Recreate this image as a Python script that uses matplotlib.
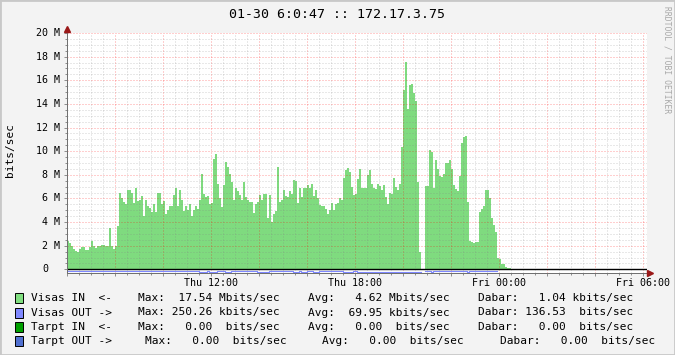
import matplotlib
matplotlib.use("Agg")
import matplotlib.pyplot as plt
import numpy as np
from matplotlib.patches import Rectangle
from matplotlib.ticker import FixedLocator, FixedFormatter

# Visas IN, Mbit/s, one value per 5 minutes starting Thu 06:00
visas_in = [
    2.4, 2.2, 2.0, 1.7, 1.55, 1.5, 1.7, 1.85, 1.85, 1.6,
    1.65, 1.9, 2.4, 2.0, 1.8, 2.0, 2.0, 2.1, 2.1, 1.95,
    1.95, 3.5, 1.95, 1.75, 2.0, 3.7, 6.5, 6.0, 5.7, 5.5,
    6.75, 6.75, 6.5, 5.6, 6.9, 5.8, 5.9, 6.2, 4.5, 5.85,
    5.4, 5.2, 4.85, 5.5, 4.85, 6.5, 6.5, 5.5, 5.8, 4.66,
    5.05, 5.4, 5.4, 6.25, 6.85, 5.33, 6.7, 5.85, 4.94, 5.33,
    5.0, 5.5, 4.5, 5.0, 5.33, 5.14, 5.85, 8.05, 6.4, 6.1,
    6.2, 5.5, 5.6, 9.35, 9.75, 7.2, 6.0, 5.3, 7.1, 9.07,
    8.7, 8.1, 7.37, 5.9, 6.86, 6.63, 6.25, 5.9, 7.43, 6.1,
    5.9, 5.74, 5.7, 4.77, 5.57, 5.7, 6.3, 5.9, 6.4, 6.4,
    4.38, 6.25, 3.98, 4.66, 4.94, 8.7, 5.74, 5.85, 6.75, 6.2,
    6.15, 6.63, 6.4, 7.54, 7.5, 5.6, 6.86, 6.1, 6.86, 6.9,
    7.1, 6.86, 7.2, 6.2, 6.75, 6.0, 5.45, 5.4, 5.33, 5.14,
    4.72, 5.05, 5.6, 5.05, 5.57, 5.6, 6.0, 5.9, 7.77, 8.4,
    8.56, 8.2, 6.97, 6.3, 6.4, 7.65, 8.5, 6.9, 6.86, 6.86,
    8.0, 8.4, 7.26, 6.9, 6.8, 7.2, 7.03, 6.75, 7.1, 6.13,
    5.57, 6.47, 6.4, 7.7, 6.97, 6.7, 7.26, 10.37, 15.17, 17.54,
    13.6, 15.6, 15.7, 14.94, 14.26, 7.37, 1.44, np.nan, np.nan, 7.03,
    7.03, 10.08, 9.94, 6.92, 9.24, 8.5, 7.88, 7.85, 8.1, 8.96,
    8.96, 9.24, 8.5, 7.1, 6.84, 6.64, 7.94, 10.65, 11.16, 11.27,
    5.68, 2.4, 2.29, 2.23, 2.29, 2.35, 4.89, 5.11, 5.34, 6.75,
    6.75, 6.0, 4.32, 3.76, 3.14, 0.99, 0.9, 0.42, 0.42, 0.2,
    0.14, 0.12,
]

# Visas OUT, Mbit/s (drawn below zero)
visas_out = [
    0.12, 0.12, 0.12, 0.12, 0.12, 0.12, 0.12, 0.12, 0.12, 0.12,
    0.12, 0.12, 0.12, 0.12, 0.12, 0.12, 0.12, 0.12, 0.12, 0.12,
    0.12, 0.12, 0.12, 0.12, 0.12, 0.12, 0.12, 0.12, 0.12, 0.12,
    0.12, 0.12, 0.12, 0.12, 0.12, 0.12, 0.12, 0.12, 0.12, 0.12,
    0.12, 0.12, 0.12, 0.12, 0.12, 0.12, 0.12, 0.12, 0.12, 0.12,
    0.12, 0.12, 0.12, 0.12, 0.12, 0.12, 0.12, 0.12, 0.12, 0.12,
    0.12, 0.12, 0.12, 0.12, 0.12, 0.12, 0.2, 0.2, 0.2, 0.2,
    0.12, 0.26, 0.26, 0.26, 0.26, 0.12, 0.12, 0.12, 0.12, 0.2,
    0.2, 0.2, 0.12, 0.12, 0.12, 0.12, 0.12, 0.12, 0.12, 0.12,
    0.12, 0.12, 0.12, 0.12, 0.12, 0.2, 0.2, 0.2, 0.2, 0.2,
    0.2, 0.12, 0.12, 0.12, 0.12, 0.18, 0.12, 0.12, 0.12, 0.12,
    0.12, 0.12, 0.12, 0.2, 0.2, 0.2, 0.12, 0.2, 0.2, 0.2,
    0.12, 0.12, 0.12, 0.2, 0.2, 0.2, 0.12, 0.12, 0.12, 0.12,
    0.12, 0.12, 0.12, 0.12, 0.12, 0.12, 0.12, 0.12, 0.2, 0.2,
    0.2, 0.2, 0.2, 0.12, 0.12, 0.2, 0.2, 0.2, 0.2, 0.2,
    0.2, 0.2, 0.2, 0.2, 0.2, 0.2, 0.2, 0.2, 0.2, 0.2,
    0.2, 0.2, 0.2, 0.2, 0.2, 0.2, 0.2, 0.25, 0.2, 0.2,
    0.2, 0.2, 0.2, 0.2, 0.2, 0.2, 0.2, np.nan, np.nan, 0.12,
    0.12, 0.12, 0.2, 0.12, 0.12, 0.12, 0.12, 0.12, 0.12, 0.12,
    0.12, 0.12, 0.12, 0.12, 0.12, 0.12, 0.12, 0.12, 0.12, 0.12,
    0.2, 0.12, 0.12, 0.12, 0.12, 0.12, 0.12, 0.12, 0.12, 0.12,
    0.12, 0.12, 0.12, 0.12, 0.12,
]

x_label_hours = [6, 12, 18, 24]
x_labels = ["Thu 12:00", "Thu 18:00", "Fri 00:00", "Fri 06:00"]
y_ticks = [0, 2, 4, 6, 8, 10, 12, 14, 16, 18, 20]
y_labels = ["0", "2 M", "4 M", "6 M", "8 M", "10 M", "12 M", "14 M", "16 M", "18 M", "20 M"]

title = "01-30 6:0:47 :: 172.17.3.75"
legend_names = ["Visas IN  <-", "Visas OUT ->", "Tarpt IN  <-", "Tarpt OUT ->"]
legend_max = ["Max:  17.54 Mbits/sec", "Max: 250.26 kbits/sec",
              "Max:   0.00  bits/sec", "Max:   0.00  bits/sec"]
legend_avg = ["Avg:   4.62 Mbits/sec", "Avg:  69.95 kbits/sec",
              "Avg:   0.00  bits/sec", "Avg:   0.00  bits/sec"]
legend_cur = ["Dabar:   1.04 kbits/sec", "Dabar: 136.53  bits/sec",
              "Dabar:   0.00  bits/sec", "Dabar:   0.00  bits/sec"]
legend_colors = ["#80DE80", "#8088FF", "#00A000", "#5070D0"]

W, H = 675, 355
mono = "DejaVu Sans Mono"
step = 1 / 12  # 5 minutes in hours

fig = plt.figure(figsize=(W / 100, H / 100), dpi=100, facecolor="#F3F3F3")
ax = fig.add_axes([67 / W, 1 - 273 / H, 579.7 / W, 240 / H])
ax.set_facecolor("white")

t_in = np.arange(len(visas_in)) * step
ax.bar(t_in, visas_in, width=step, align="edge", color="#7FDB7F",
       linewidth=0, antialiased=False, zorder=1)

out = np.array(visas_out, dtype=float)
xo = np.append(np.arange(len(out)) * step, len(out) * step)
yo = np.append(-out, -out[-1])
ax.step(xo, yo, where="post", color="#7F88FF", lw=0.8, zorder=3)
ax.axhline(0, color="black", lw=1.0, zorder=4)

ax.set_xlim(0, 24.15)
ax.set_ylim(-0.31, 20)

major_x = np.arange(0, 24.1, 2)
ax.xaxis.set_major_locator(FixedLocator(major_x))
ax.xaxis.set_major_formatter(FixedFormatter(
    [x_labels[x_label_hours.index(h)] if h in x_label_hours else "" for h in major_x]))
ax.xaxis.set_minor_locator(FixedLocator(np.arange(0, 24.1, 0.5)))
ax.yaxis.set_major_locator(FixedLocator(y_ticks))
ax.yaxis.set_minor_locator(FixedLocator(np.arange(0, 20.1, 0.5)))
ax.set_yticklabels([])

ax.set_axisbelow(False)
ax.grid(which="minor", color="#808080", alpha=0.35, ls=(0, (1, 2)), lw=0.72)
ax.grid(which="major", color="#FF0000", alpha=0.38, ls=(0, (1, 2)), lw=0.72)

for s in ["top", "right"]:
    ax.spines[s].set_visible(False)
for s in ["left", "bottom"]:
    ax.spines[s].set_color("#707070")
    ax.spines[s].set_linewidth(0.72)
    ax.spines[s].set_zorder(5)

ax.tick_params(which="both", direction="out", color="#909090", width=0.72)
ax.tick_params(which="major", length=2)
ax.tick_params(which="minor", length=1.4)
ax.tick_params(axis="x", pad=1.5, labelsize=7.2)
for lab in ax.get_xticklabels():
    lab.set_fontfamily(mono)

# arrows at axis ends
ax.plot([0, 0], [20, 20.36], color="#707070", lw=0.72, clip_on=False, zorder=5)
ax.plot([0], [20.36], marker="^", color="#9A1818", markersize=4, clip_on=False, zorder=6)
ax.plot([24.27], [-0.31], marker=">", color="#9A1818", markersize=4, clip_on=False, zorder=6)

for v, lab in zip(y_ticks, y_labels):
    off = -19 if v == 0 else -7
    ax.annotate(lab, xy=(0, v), xycoords=("axes fraction", "data"),
                xytext=(off, 0), textcoords="offset pixels",
                ha="right", va="center", fontsize=7.2, family=mono)

fig.text(10 / W, 1 - 150 / H, "bits/sec", rotation=90, ha="center", va="center",
         fontsize=8, family=mono)
fig.text(337 / W, 1 - 14 / H, title, ha="center", va="center", fontsize=9.5, family=mono)
fig.text(667 / W, 1 - 60 / H, "RRDTOOL / TOBI OETIKER", rotation=270, ha="center",
         va="center", fontsize=5.8, family=mono, color="#A8A8A8")

# legend: each item starts at its own x (pixels), like rrdtool places them
row_y = [298, 312.5, 327, 341]
max_x = [138, 138, 138, 145]
avg_x = [308, 308, 308, 322]
cur_x = [478, 478, 478, 500]
for i, yy in enumerate(row_y):
    fig.patches.append(Rectangle((15 / W, 1 - (yy + 5) / H), 8 / W, 10 / H,
                                 transform=fig.transFigure, facecolor=legend_colors[i],
                                 edgecolor="black", lw=0.7))
    for xx, txt in [(31, legend_names[i]), (max_x[i], legend_max[i]),
                    (avg_x[i], legend_avg[i]), (cur_x[i], legend_cur[i])]:
        fig.text(xx / W, 1 - yy / H, txt, ha="left", va="center", fontsize=8, family=mono)

fig.patches.append(Rectangle((0, 0), 1, 1, transform=fig.transFigure, fill=False,
                             edgecolor="#C8C8C8", lw=2))

fig.savefig("out.png", dpi=100, facecolor=fig.get_facecolor())
